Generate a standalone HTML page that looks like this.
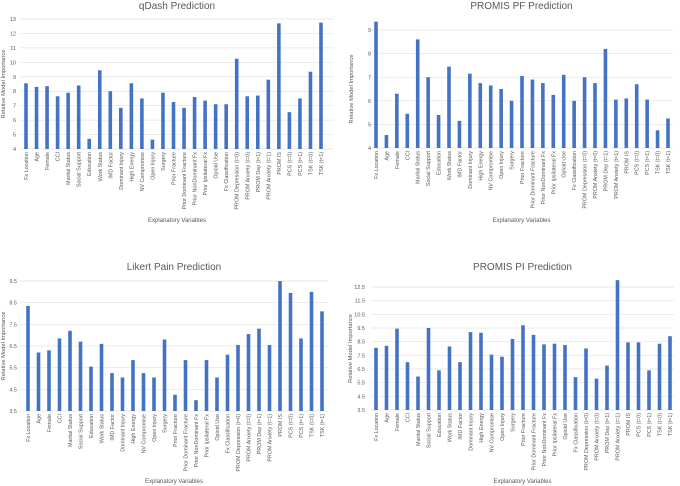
<!DOCTYPE html>
<html><head><meta charset="utf-8"><style>
html,body{margin:0;padding:0;background:#fff;}
svg{display:block;font-family:"Liberation Sans",sans-serif;}
</style></head><body>
<svg id="c" width="680" height="486" viewBox="0 0 680 486"></svg>
<script>
const categories=["Fx Location","Age","Female","CCI","Marital Status","Social Support","Education","Work Status","IMD Factor","Dominant Injury","High Energy","NV Compromise","Open Injury","Surgery","Prior Fracture","Prior Dominant Fracture","Prior NonDominant Fx","Prior Ipsilateral Fx","Opioid Use","Fx Classification","PROM Depression (t=0)","PROM Anxiety (t=0)","PROM Dep (t=1)","PROM Anxiety (t=1)","PROM IS","PCS (t=0)","PCS (t=1)","TSK (t=0)","TSK (t=1)"];
const qdashValues=[8.55,8.3,8.35,7.65,7.9,8.4,4.7,9.45,8.0,6.85,8.55,7.5,4.65,7.9,7.25,6.85,7.6,7.35,7.1,7.1,10.25,7.65,7.7,8.8,12.7,6.55,7.5,9.35,12.75];
const pfValues=[9.35,4.55,6.3,5.45,8.6,7.0,5.4,7.45,5.15,7.15,6.75,6.65,6.5,6.0,7.05,6.9,6.75,6.25,7.1,6.0,7.0,6.75,8.2,6.05,6.1,6.7,6.05,4.75,5.25];
const painValues=[8.35,6.2,6.3,6.85,7.2,6.7,5.55,6.6,5.25,5.05,5.85,5.25,5.05,6.8,4.25,5.85,4.0,5.85,5.05,6.1,6.55,7.05,7.3,6.55,9.5,8.95,6.85,9.0,8.1];
const piValues=[8.05,8.2,9.45,7.0,5.95,9.5,6.4,8.15,7.0,9.2,9.15,7.55,7.4,8.7,9.7,9.0,8.3,8.35,8.25,5.9,8.0,5.8,6.75,13.0,8.45,8.45,6.4,8.35,8.9];
const qdashTicks=[4,5,6,7,8,9,10,11,12,13];
const pfTicks=[4,5,6,7,8,9];
const painTicks=[3.5,4.5,5.5,6.5,7.5,8.5,9.5];
const piTicks=[3.5,4.5,5.5,6.5,7.5,8.5,9.5,10.5,11.5,12.5];

const NS="http://www.w3.org/2000/svg";
const svg=document.getElementById('c');
function mk(tag,attrs,parent,text){const e=document.createElementNS(NS,tag);for(const k in attrs)e.setAttribute(k,attrs[k]);if(text!=null)e.textContent=text;(parent||svg).appendChild(e);return e;}

function panel(cfg,vals,ticks){
  const g=mk('g',{});
  
  
  const t0=ticks[0],t1=ticks[ticks.length-1];
  const y=v=>cfg.yB+(v-t0)*(cfg.yT-cfg.yB)/(t1-t0);
  const step=(cfg.xR-cfg.xL)/(categories.length-1);
  const x=i=>cfg.xL+i*step;
  const t=mk('text',{x:(cfg.gL+cfg.gR)/2,y:cfg.titleY,'text-anchor':'middle','font-size':10,fill:'#595959'},g,cfg.title);
  
  
  ticks.forEach(v=>{
    const l=mk('line',{x1:cfg.gL,x2:cfg.gR,y1:y(v),y2:y(v),stroke:'#e3e3e3','stroke-width':0.7},g);
    
    
    const tl=mk('text',{x:cfg.tickX,y:y(v)+2,'text-anchor':'end','font-size':5.5,fill:'#595959'},g,String(v));
    
    
  });
  vals.forEach((v,i)=>{
    const r=mk('rect',{x:x(i)-1.8,y:y(v),width:3.6,height:y(t0)-y(v),fill:'#4472c4'},g);
    
    
    const lbl=mk('text',{transform:`translate(${x(i)+2},${y(t0)+3}) rotate(-90)`,'text-anchor':'end','font-size':5.4,fill:'#595959'},g,categories[i]);
    
    
  });
  const xt=mk('text',{x:(cfg.gL+cfg.gR)/2,y:cfg.xTitleY,'text-anchor':'middle','font-size':6,fill:'#595959'},g,'Explanatory Variables');
  
  
  const yc=(cfg.yT+cfg.yB)/2;
  const yt=mk('text',{transform:`translate(${cfg.yTitleX},${yc}) rotate(-90)`,'text-anchor':'middle','font-size':5.8,fill:'#595959'},g,'Relative Model Importance');
  
  
}
panel({name:'qdash-panel',title:'qDash Prediction',titleY:9,yT:19,yB:149,xL:26,xR:321,gL:20,gR:334,tickX:16,xTitleY:222,yTitleX:5},qdashValues,qdashTicks);
panel({name:'promis-pf-panel',title:'PROMIS PF Prediction',titleY:9,yT:30,yB:148,xL:376,xR:668,gL:370,gR:673,tickX:371,xTitleY:222,yTitleX:353},pfValues,pfTicks);
panel({name:'likert-pain-panel',title:'Likert Pain Prediction',titleY:270,yT:281,yB:411,xL:28,xR:322,gL:20,gR:328,tickX:17,xTitleY:483,yTitleX:5},painValues,painTicks);
panel({name:'promis-pi-panel',title:'PROMIS PI Prediction',titleY:270,yT:287,yB:410,xL:376,xR:670,gL:371,gR:674,tickX:365,xTitleY:483,yTitleX:352},piValues,piTicks);
</script>
</body></html>
